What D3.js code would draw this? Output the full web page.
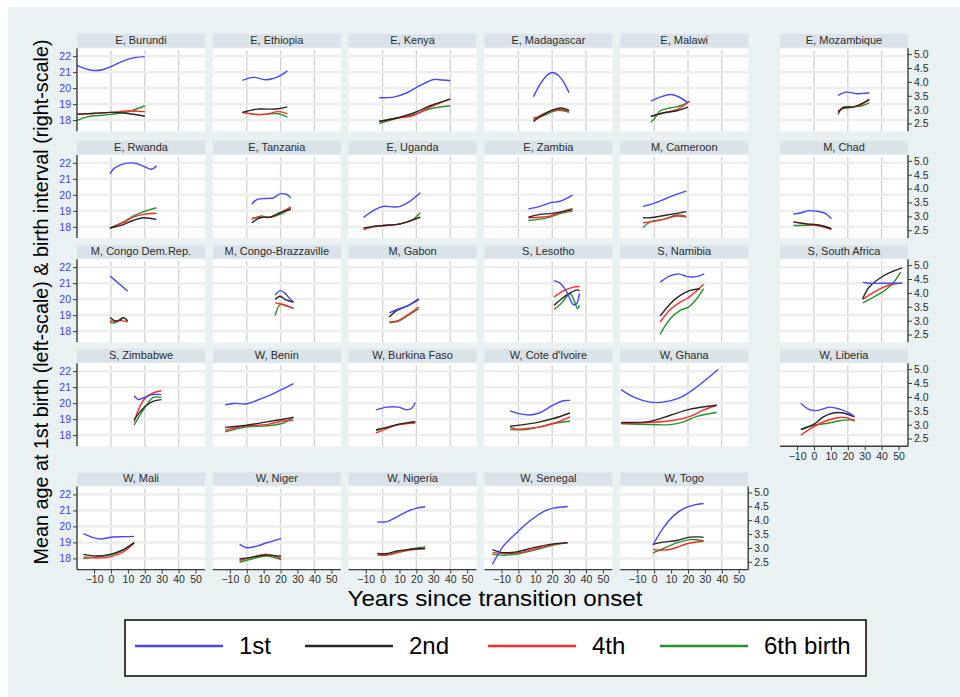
<!DOCTYPE html>
<html>
<head>
<meta charset="utf-8">
<script src="https://cdn.jsdelivr.net/npm/d3@7"></script>
<style>
  body { margin: 0; background: #ffffff; }
  svg { display: block; font-family: "Liberation Sans", Arial, sans-serif; }
</style>
</head>
<body>
<svg id="chart" width="960" height="697"></svg>
<script>
// Panels in reading order (region, country)
const countries = [
  "E, Burundi", "E, Ethiopia", "E, Kenya", "E, Madagascar", "E, Malawi", "E, Mozambique",
  "E, Rwanda", "E, Tanzania", "E, Uganda", "E, Zambia", "M, Cameroon", "M, Chad",
  "M, Congo Dem.Rep.", "M, Congo-Brazzaville", "M, Gabon", "S, Lesotho", "S, Namibia", "S, South Africa",
  "S, Zimbabwe", "W, Benin", "W, Burkina Faso", "W, Cote d'Ivoire", "W, Ghana", "W, Liberia",
  "W, Mali", "W, Niger", "W, Nigeria", "W, Senegal", "W, Togo"
];

// Mean age at 1st birth (left scale): [years since onset, age]
const firstBirth = [
  [[-20,21.42],[-15,21.2],[-10,21.1],[-5,21.15],[0,21.35],[5,21.6],[10,21.8],[15,21.92],[20,21.97]],
  [[-2.6,20.48],[4,20.67],[11.8,20.52],[18.3,20.7],[24,21.08]],
  [[-2,19.4],[6.5,19.44],[14.4,19.71],[22.3,20.17],[30.2,20.54],[34,20.52],[40,20.46]],
  [[8.9,19.46],[12.8,20.23],[16.8,20.79],[20.3,20.98],[23.7,20.79],[27,20.33],[30,19.71]],
  [[-2,19.19],[3.5,19.44],[9.5,19.6],[14.4,19.46],[20,19.08]],
  [[14.2,19.54],[19.1,19.75],[25,19.65],[28.8,19.67],[32.7,19.71]],
  [[-0.6,21.33],[2.4,21.7],[9.2,21.98],[15,21.96],[21,21.7],[24,21.6],[27,21.81]],
  [[3,19.43],[6,19.7],[11.8,19.77],[15.8,19.81],[19.7,20.06],[23.7,20.02],[26,19.81]],
  [[-11.2,18.59],[-5.3,19.03],[0.6,19.28],[6.5,19.24],[10.5,19.28],[15.4,19.54],[22.3,20.13]],
  [[5.9,19.12],[12.8,19.28],[18.7,19.5],[24.7,19.6],[32,19.98]],
  [[-6.6,19.28],[-2.4,19.39],[5.5,19.7],[11.4,19.96],[19,20.23]],
  [[-12.1,18.8],[-8.2,18.86],[-3.3,19.01],[1.6,18.97],[6.4,18.86],[10.3,18.5]],
  [[-0.6,21.45],[4.6,20.98],[9.8,20.5]],
  [[16.8,20.25],[19.7,20.53],[22.7,20.36],[25.6,20.0],[27.6,19.83]],
  [[4,19.14],[8.5,19.35],[14.4,19.56],[21.3,20.04]],
  [[21.1,21.16],[24.7,20.99],[28.6,20.46],[32.5,19.66],[34.5,19.73],[36.1,20.36]],
  [[3.5,21.05],[8.5,21.41],[14.4,21.58],[19.3,21.41],[25.2,21.41],[29.6,21.58]],
  [[28.8,21.05],[32.7,20.99],[40.5,20.99],[52.2,20.99]],
  [[13.7,20.46],[16.1,20.23],[19,20.32],[22.9,20.5],[27,20.55],[29.8,20.53]],
  [[-12.8,19.89],[-7.9,19.98],[0,19.96],[7.9,20.25],[15.8,20.6],[21.7,20.9],[27.6,21.22]],
  [[-3.9,19.58],[2.6,19.75],[9.5,19.75],[14.4,19.58],[17.4,19.69],[19.3,20.04]],
  [[-4.9,19.52],[1,19.33],[6.9,19.26],[12.8,19.41],[20.7,19.89],[26.6,20.15],[30.6,20.17]],
  [[-19.6,20.84],[-11.4,20.34],[-2.5,20.06],[5.2,20.06],[15.3,20.34],[23,20.84],[30,21.41],[37.8,22.1]],
  [[-7.8,20.0],[-3.3,19.62],[1.6,19.53],[9.4,19.75],[15.2,19.62],[21,19.37],[24,19.15]],
  [[-16.3,19.55],[-10.4,19.3],[-6.5,19.21],[1.4,19.34],[9.2,19.36],[13.7,19.38]],
  [[-4.3,18.88],[0,18.67],[5.9,18.77],[11.8,18.98],[20.3,19.24]],
  [[-3,20.28],[2.6,20.3],[8.5,20.6],[14.4,20.93],[20.3,21.14],[25.2,21.23]],
  [[-15.4,17.62],[-8.9,18.77],[-1,19.61],[6.9,20.35],[14.8,20.93],[20.7,21.14],[29.2,21.25]],
  [[-0.8,18.84],[5.5,19.93],[11.4,20.66],[17.4,21.12],[23.3,21.33],[29.2,21.43]]
];

// Birth interval before the 2nd birth (right scale)
const secondBirth = [
  [[-20,2.84],[-10,2.87],[0,2.9],[10,2.86],[20,2.76]],
  [[-2.6,2.9],[5.9,3.02],[11.8,3.02],[18.7,3.03],[24,3.1]],
  [[-2,2.58],[8.5,2.7],[18.3,2.88],[28.2,3.14],[40,3.38]],
  [[8.9,2.58],[14.8,2.82],[20.7,3.0],[25.6,3.06],[30,2.97]],
  [[-2,2.76],[5.5,2.88],[13.4,2.96],[20,3.09]],
  [[14.2,2.9],[17.2,3.06],[23,3.09],[27.9,3.21],[32.7,3.36]],
  [[-0.6,2.58],[7.3,2.7],[13.1,2.85],[19,2.95],[26.9,2.89]],
  [[3,2.77],[7.9,2.95],[13.8,2.97],[19.7,3.13],[26,3.25]],
  [[-11.2,2.58],[-5.3,2.64],[0.6,2.67],[10.5,2.73],[22.3,2.97]],
  [[5.9,2.97],[12.8,3.07],[18.7,3.1],[24.7,3.15],[32,3.24]],
  [[-6.6,2.95],[-2.4,2.95],[7.5,3.05],[19,3.17]],
  [[-12.1,2.8],[-4.3,2.73],[3.5,2.68],[10.3,2.55]],
  [[-0.6,3.11],[2.4,2.99],[5.3,3.01],[7.3,3.11],[9.8,2.99]],
  [[16.8,3.76],[19.7,3.88],[22.7,3.76],[25.6,3.7],[27.6,3.66]],
  [[4,3.13],[8.5,3.37],[14.4,3.52],[21.3,3.76]],
  [[21.1,3.55],[25.6,3.79],[30.6,4.0],[34.9,4.11],[36.1,4.07]],
  [[3.5,3.16],[9.5,3.61],[15.4,3.91],[21.3,4.09],[27.2,4.15]],
  [[28.8,3.79],[32.7,4.21],[40.5,4.59],[46.4,4.77],[52.2,4.9]],
  [[13.7,3.18],[17.1,3.46],[21,3.7],[24.9,3.84],[29.8,3.9]],
  [[-12.8,2.9],[0,2.98],[11.8,3.1],[27.6,3.26]],
  [[-3.9,2.82],[2.6,2.9],[9.5,3.02],[19.3,3.1]],
  [[-4.9,2.94],[4.9,3.02],[12.8,3.1],[20.7,3.22],[30.6,3.42]],
  [[-19.6,3.08],[-2.4,3.12],[9.5,3.34],[21.3,3.56],[37,3.7]],
  [[-7.8,2.82],[-0.4,3.0],[5.5,3.28],[11.3,3.42],[17.2,3.42],[24,3.28]],
  [[-16.3,2.77],[-8.4,2.71],[-0.6,2.77],[7.3,2.94],[13.7,3.19]],
  [[-4.3,2.6],[3.9,2.68],[11.8,2.74],[20.3,2.7]],
  [[-3,2.8],[2.6,2.8],[8.5,2.89],[14.4,2.94],[25.2,2.98]],
  [[-15.4,2.94],[-8.9,2.83],[-1,2.86],[8.9,3.01],[18.7,3.13],[29.2,3.19]],
  [[-0.8,3.13],[5.5,3.21],[13.4,3.27],[21.3,3.39],[29.2,3.39]]
];

// Birth interval before the 4th birth (right scale)
const fourthBirth = [
  [[-20,2.84],[-10,2.86],[0,2.9],[10,2.95],[20,2.93]],
  [[-2.6,2.9],[5.9,2.83],[11.8,2.84],[18.7,2.93],[24,2.85]],
  [[-2,2.58],[8.5,2.7],[18.3,2.79],[28.2,3.09],[40,3.39]],
  [[8.9,2.64],[14.8,2.85],[20.7,2.97],[25.6,3.0],[30,2.94]],
  [[-2,2.75],[5.5,2.89],[13.4,3.0],[21,3.3]],
  [[14.2,2.94],[17.2,3.06],[23,3.09],[27.9,3.18],[32.7,3.38]],
  [[-0.6,2.58],[7.3,2.77],[13.1,2.97],[19,3.07],[26.9,3.11]],
  [[3,2.93],[7.9,2.97],[13.8,2.97],[19.7,3.13],[26,3.34]],
  [[-11.2,2.52],[-5.3,2.62],[0.6,2.67],[10.5,2.73],[22.3,2.97]],
  [[5.9,2.95],[12.8,2.97],[18.7,3.01],[24.7,3.15],[32,3.28]],
  [[-6.6,2.77],[-2.4,2.8],[5.5,2.89],[13.4,3.01],[19,2.97]],
  [[-12.1,2.8],[-4.3,2.71],[3.5,2.65],[10.3,2.53]],
  [[-0.6,2.99],[2.4,2.98],[5.3,3.01],[9.8,2.95]],
  [[16.8,3.64],[19.7,3.61],[23.7,3.54],[27.6,3.43]],
  [[4,2.95],[9.5,3.01],[14.4,3.19],[21.3,3.49]],
  [[21.1,3.85],[26.6,4.07],[32.5,4.21],[36.1,4.23]],
  [[3.5,2.95],[9.5,3.4],[15.4,3.67],[19.3,3.79],[24.3,4.03],[29.2,4.31]],
  [[28.8,3.76],[34.7,4.0],[40.5,4.19],[46.4,4.31],[52.2,4.35]],
  [[13.7,3.1],[16.1,3.52],[20,3.94],[24.9,4.14],[29.8,4.22]],
  [[-12.8,2.8],[0,2.96],[11.8,3.0],[21.7,3.14],[27.6,3.16]],
  [[-3.9,2.7],[2.6,2.86],[9.5,3.0],[19.3,3.06]],
  [[-4.9,2.9],[-1,2.84],[4.9,2.86],[12.8,2.92],[20.7,3.04],[30.6,3.28]],
  [[-19.6,3.04],[-2.4,3.08],[9.5,3.14],[21.3,3.3],[29,3.52],[37,3.7]],
  [[-7.8,2.62],[-0.4,2.92],[7.4,3.14],[15.2,3.26],[21.1,3.22],[24,3.12]],
  [[-16.3,2.68],[-8.4,2.64],[-0.6,2.68],[7.3,2.86],[13.7,3.18]],
  [[-4.3,2.54],[3.9,2.68],[11.8,2.77],[20.3,2.62]],
  [[-3,2.74],[2.6,2.74],[10.5,2.86],[18.3,2.94],[25.2,2.98]],
  [[-15.4,2.83],[-6.9,2.8],[1,2.83],[10.8,2.98],[20.7,3.12],[29.2,3.19]],
  [[-0.8,2.95],[5.5,2.92],[11.4,2.98],[19.3,3.15],[29.2,3.24]]
];

// Birth interval before the 6th birth (right scale)
const sixthBirth = [
  [[-20,2.61],[-14,2.74],[-5,2.8],[0,2.83],[10,2.92],[20,3.14]],
  [[-2.6,2.9],[5.9,2.82],[11.8,2.84],[18.7,2.85],[24,2.73]],
  [[-2,2.5],[8.5,2.69],[18.3,2.82],[28.2,3.03],[40,3.14]],
  [[8.9,2.7],[14.8,2.79],[20.7,2.94],[25.6,2.97],[30,2.9]],
  [[-2,2.55],[0,2.66],[3.5,2.96],[9.5,3.06],[15.4,3.14],[21,3.3]],
  [[14.2,2.82],[17.2,3.09],[23,3.11],[27.9,3.13],[32.7,3.24]],
  [[-0.6,2.58],[7.3,2.8],[13.1,3.01],[19,3.16],[26.9,3.31]],
  [[3,2.89],[7.9,3.01],[13.8,2.97],[19.7,3.07],[26,3.29]],
  [[-11.2,2.55],[-5.3,2.64],[0.6,2.67],[10.5,2.73],[17,2.85],[22.3,3.13]],
  [[5.9,2.85],[12.8,2.9],[18.7,2.97],[24.7,3.1],[32,3.19]],
  [[-6.6,2.59],[-2.4,2.8],[5.5,2.89],[13.4,3.05],[19,3.0]],
  [[-12.1,2.67],[-4.3,2.68],[3.5,2.67],[10.3,2.56]],
  [[-0.6,2.95],[2.4,2.92],[5.3,3.06],[7.3,3.11],[9.8,3.0]],
  [[16.8,3.19],[19.7,3.58],[23.7,3.52],[27.6,3.46]],
  [[4,2.92],[9.5,2.98],[14.4,3.16],[21.3,3.43]],
  [[21.1,3.4],[25.6,3.64],[30.6,3.97],[33.5,3.64],[34.9,3.43],[36.1,3.55]],
  [[3.5,2.51],[9.5,3.07],[15.4,3.37],[20.3,3.49],[25.2,3.79],[29.2,4.15]],
  [[28.8,3.64],[34.7,3.83],[40.5,4.03],[46.4,4.33],[51.3,4.75]],
  [[13.7,2.98],[17.1,3.34],[21,3.7],[24.9,3.98],[29.8,3.98]],
  [[-12.8,2.74],[0,2.92],[11.8,2.96],[21.7,3.06],[27.6,3.28]],
  [[-3.9,2.78],[2.6,2.9],[9.5,3.0],[19.3,3.12]],
  [[-4.9,2.82],[4.9,2.82],[12.8,2.92],[20.7,3.04],[30.6,3.12]],
  [[-19.6,3.04],[-2.4,3.0],[9.5,3.0],[17.4,3.1],[25.2,3.3],[37,3.44]],
  [[-7.8,2.84],[-0.4,2.98],[7.4,3.04],[15.2,3.14],[24,3.18]],
  [[-16.3,2.62],[-8.4,2.68],[-0.6,2.74],[7.3,2.92],[13.7,3.18]],
  [[-4.3,2.48],[3.9,2.62],[11.8,2.71],[20.3,2.58]],
  [[-3,2.8],[2.6,2.76],[10.5,2.86],[18.3,2.98],[25.2,3.04]],
  [[-15.4,2.77],[-6.9,2.74],[1,2.8],[10.8,2.94],[20.7,3.1],[29.2,3.19]],
  [[-0.8,2.82],[5.5,2.98],[13.4,3.18],[21.3,3.3],[29.2,3.25]]
];

const xTicks = [-10, 0, 10, 20, 30, 40, 50];
const xGrid = [0, 20, 40];
const leftTicks = [18, 19, 20, 21, 22];
const rightTicks = [2.5, 3.0, 3.5, 4.0, 4.5, 5.0];
const legendLabels = ["1st", "2nd", "4th", "6th birth"];
const seriesColors = ["#4646ff", "#262626", "#ff2a2a", "#27922a"];

const yTitle = "Mean age at 1st birth (left-scale) & birth interval (right-scale)";
const xTitle = "Years since transition onset";

// ---- layout ----
const svg = d3.select("#chart");
const panelW = 128, plotH = 83, stripH = 13.5;
const colLeft = [77, 212.8, 348.6, 484.4, 620.2, 780];
const rowTop = [34, 140.7, 245, 349, 472.3];

const x = d3.scaleLinear().domain([-20.1, 55.6]).range([0, panelW]);
const yL = d3.scaleLinear().domain([17.3, 22.49]).range([plotH, 0]);
const yR = d3.scaleLinear().domain([2.22, 5.21]).range([plotH, 0]);

// page background
svg.append("rect").attr("x", 8).attr("y", 7).attr("width", 952).attr("height", 690)
  .attr("fill", "#eaf1f2");

const lineL = d3.line().x(d => x(d[0])).y(d => yL(d[1])).curve(d3.curveCatmullRom.alpha(0.5));
const lineR = d3.line().x(d => x(d[0])).y(d => yR(d[1])).curve(d3.curveCatmullRom.alpha(0.5));

const tickFont = "Liberation Sans, Arial, sans-serif";

countries.forEach((name, i) => {
  const row = Math.floor(i / 6), col = i % 6;
  const px = colLeft[col], sy = rowTop[row], py = sy + 14.3;
  const isLastInRow = (col === 5) || (i === countries.length - 1);
  const hasXAxis = row === 4 || i === 23;

  // strip header
  svg.append("rect").attr("x", px).attr("y", sy).attr("width", panelW).attr("height", stripH)
    .attr("fill", "#d9e3e9");
  svg.append("text").attr("x", px + panelW / 2).attr("y", sy + stripH / 2 + 0.5)
    .attr("text-anchor", "middle").attr("dominant-baseline", "middle")
    .attr("font-size", 11).attr("fill", "#2b2b2b").text(name);

  const g = svg.append("g").attr("transform", `translate(${px},${py})`);
  g.append("rect").attr("width", panelW).attr("height", plotH).attr("fill", "#ffffff");

  // grid: vertical then horizontal
  g.selectAll(".vg").data(xGrid).join("line")
    .attr("x1", d => x(d)).attr("x2", d => x(d)).attr("y1", 2).attr("y2", plotH)
    .attr("stroke", "#d4d4d4").attr("stroke-width", 1.4);
  g.selectAll(".hg").data(leftTicks).join("line")
    .attr("x1", 0).attr("x2", panelW).attr("y1", d => yL(d)).attr("y2", d => yL(d))
    .attr("stroke", "#ededed").attr("stroke-width", 2.5);

  // curves: intervals (right scale) first, first-birth age (left scale) on top
  [[sixthBirth, 3], [fourthBirth, 2], [secondBirth, 1]].forEach(([arr, k]) => {
    g.append("path").attr("d", lineR(arr[i])).attr("fill", "none")
      .attr("stroke", seriesColors[k]).attr("stroke-width", 1.4);
  });
  g.append("path").attr("d", lineL(firstBirth[i])).attr("fill", "none")
    .attr("stroke", seriesColors[0]).attr("stroke-width", 1.4);

  // left axis on first column
  if (col === 0) {
    const ax = g.append("g").call(d3.axisLeft(yL).tickValues(leftTicks).tickFormat(d3.format("d"))
      .tickSize(4).tickPadding(2));
    ax.select(".domain").attr("d", `M0,0V${plotH}`).attr("stroke", "#3a3a3a").attr("stroke-width", 1.4);
    ax.selectAll(".tick line").attr("stroke", "#3a3a3a");
    ax.selectAll(".tick text").attr("fill", "#3c3cff").attr("font-size", 10.5)
      .attr("font-family", tickFont);
  }
  // right axis on last panel of each row
  if (isLastInRow) {
    const ax = g.append("g").attr("transform", `translate(${panelW},0)`)
      .call(d3.axisRight(yR).tickValues(rightTicks).tickFormat(d3.format(".1f")).tickSize(4).tickPadding(2));
    ax.select(".domain").attr("d", `M0,0V${plotH}`).attr("stroke", "#3a3a3a").attr("stroke-width", 1.4);
    ax.selectAll(".tick line").attr("stroke", "#3a3a3a");
    ax.selectAll(".tick text").attr("fill", "#2b2b2b").attr("font-size", 10.5)
      .attr("font-family", tickFont);
  }
  // bottom axis
  if (hasXAxis) {
    const ax = g.append("g").attr("transform", `translate(0,${plotH})`)
      .call(d3.axisBottom(x).tickValues(xTicks).tickSize(4).tickPadding(2));
    ax.select(".domain").attr("d", `M0,0H${panelW}`).attr("stroke", "#3a3a3a").attr("stroke-width", 1.4);
    ax.selectAll(".tick line").attr("stroke", "#3a3a3a");
    ax.selectAll(".tick text").attr("fill", "#2b2b2b").attr("font-size", 10.5)
      .attr("font-family", tickFont);
  }
});

// axis titles
svg.append("text").attr("transform", "translate(48,302) rotate(-90)")
  .attr("text-anchor", "middle").attr("font-size", 21).attr("fill", "#000")
  .attr("textLength", 525).attr("lengthAdjust", "spacingAndGlyphs").text(yTitle);
svg.append("text").attr("x", 495).attr("y", 606)
  .attr("text-anchor", "middle").attr("font-size", 22).attr("fill", "#000")
  .attr("textLength", 295).attr("lengthAdjust", "spacingAndGlyphs").text(xTitle);

// legend
const lg = svg.append("g");
lg.append("rect").attr("x", 125).attr("y", 620).attr("width", 741).attr("height", 56)
  .attr("fill", "#ffffff").attr("stroke", "#000").attr("stroke-width", 1.5);
const legendX = [135, 305, 488, 660];
legendLabels.forEach((lab, k) => {
  lg.append("line").attr("x1", legendX[k]).attr("x2", legendX[k] + 88)
    .attr("y1", 646).attr("y2", 646).attr("stroke", seriesColors[k]).attr("stroke-width", 2.4);
  lg.append("text").attr("x", legendX[k] + 104).attr("y", 654)
    .attr("font-size", 24).attr("fill", "#000").text(lab);
});
</script>
</body>
</html>
